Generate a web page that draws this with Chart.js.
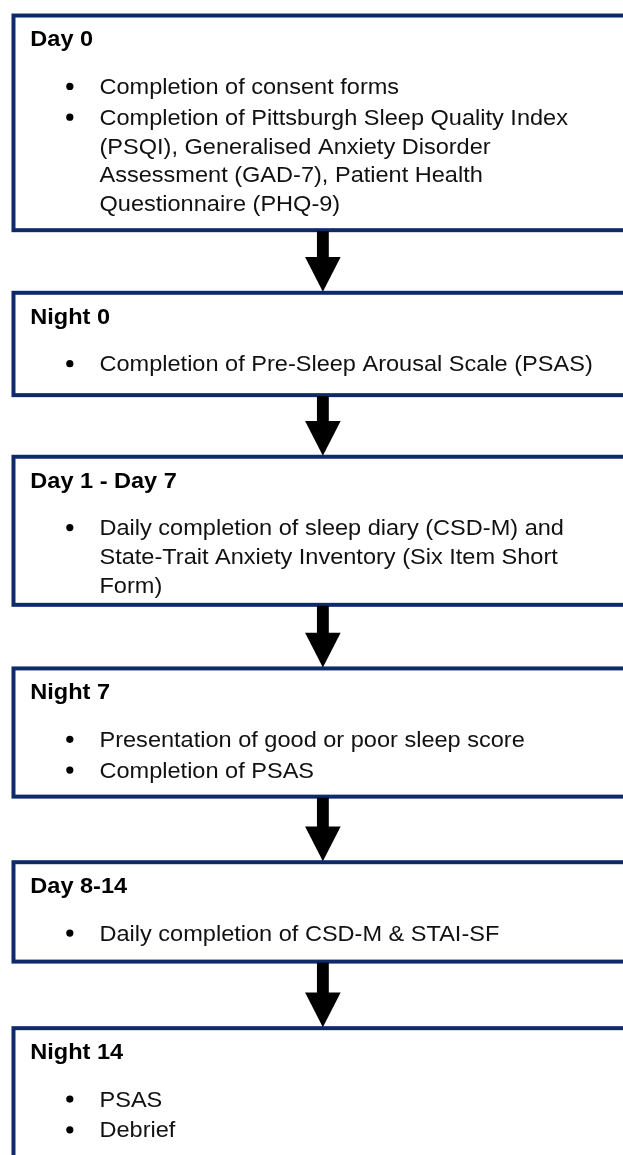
<!DOCTYPE html>
<html>
<head>
<meta charset="utf-8">
<script src="https://cdn.jsdelivr.net/npm/chart.js@4.4.0/dist/chart.umd.min.js"></script>
<style>
  html, body { margin: 0; padding: 0; background: #fff; }
  #wrap { width: 623px; height: 1155px; }
</style>
</head>
<body>
<div id="wrap"><canvas id="flow" width="623" height="1155"></canvas></div>
<script>
"use strict"

// stages, top to bottom
const stageTitles = ['Day 0', 'Night 0', 'Day 1 - Day 7', 'Night 7', 'Day 8-14', 'Night 14'];

// bullets per stage, each bullet split into the lines it is printed on
const stageItems = [
  [['Completion of consent forms'],
   ['Completion of Pittsburgh Sleep Quality Index',
    '(PSQI), Generalised Anxiety Disorder',
    'Assessment (GAD-7), Patient Health',
    'Questionnaire (PHQ-9)']],
  [['Completion of Pre-Sleep Arousal Scale (PSAS)']],
  [['Daily completion of sleep diary (CSD-M) and',
    'State-Trait Anxiety Inventory (Six Item Short',
    'Form)']],
  [['Presentation of good or poor sleep score'], ['Completion of PSAS']],
  [['Daily completion of CSD-M & STAI-SF']],
  [['PSAS'], ['Debrief']]
];

// layout (page units = px on the 623 x 1155 scales)
const boxTop = [10, 289, 454, 667, 862, 1029];
const boxBottom = [230, 396, 607, 800, 966, 1200];
const lay = {
  left: 10, right: 660, border: 4,
  titleX: 27, titleDy: 33, firstDy: 81, lineStep: 29, paraGap: 2,
  bulletX: 67, bulletLift: 7.7, textX: 97,
  arrowX: 323, shaftW: 12, headW: 36, headH: 34
};
const navy = '#0f2a6b';
const ink = '#111111';
const fontFam = '"Liberation Sans", Arial, sans-serif';
const stretch = 1.07;

// work out where every line and bullet goes
let textLines = [];
let bulletPts = [];
for (let s = 0; s < stageTitles.length; s++) {
  let y = boxTop[s] + lay.firstDy;
  stageItems[s].forEach((item, k) => {
    if (k > 0) y += lay.paraGap;
    bulletPts.push({ x: lay.bulletX, y: y - lay.bulletLift });
    item.forEach(line => {
      textLines.push({ text: line, y: y });
      y += lay.lineStep;
    });
  });
}

const flowPlugin = {
  id: 'flow',
  beforeDatasetsDraw(chart) {
    const ctx = chart.ctx;
    const xs = chart.scales.x, ys = chart.scales.y;
    const X = v => xs.getPixelForValue(v);
    const Y = v => ys.getPixelForValue(v);
    ctx.save();

    // boxes
    ctx.strokeStyle = navy;
    ctx.lineWidth = lay.border;
    for (let s = 0; s < stageTitles.length; s++) {
      const t = Y(boxTop[s] + lay.border / 2), b = Y(boxBottom[s] - lay.border / 2);
      ctx.strokeRect(X(lay.left), t, X(lay.right) - X(lay.left), b - t);
    }

    // arrows between boxes
    ctx.fillStyle = '#000';
    for (let s = 0; s < stageTitles.length - 1; s++) {
      const y0 = boxBottom[s], y1 = boxTop[s + 1];
      const hb = y1 - lay.headH;
      ctx.fillRect(X(lay.arrowX - lay.shaftW / 2), Y(y0 - 1), X(lay.shaftW) - X(0), Y(hb + 1) - Y(y0 - 1));
      ctx.beginPath();
      ctx.moveTo(X(lay.arrowX - lay.headW / 2), Y(hb));
      ctx.lineTo(X(lay.arrowX + lay.headW / 2), Y(hb));
      ctx.lineTo(X(lay.arrowX), Y(y1 + 1));
      ctx.closePath();
      ctx.fill();
    }

    // titles and bullet text
    ctx.textBaseline = 'alphabetic';
    ctx.textAlign = 'left';
    const put = (str, x, y) => {
      ctx.save();
      ctx.translate(X(x), Y(y));
      ctx.scale(stretch, 1);
      ctx.fillText(str, 0, 0);
      ctx.restore();
    };
    ctx.fillStyle = '#000';
    ctx.font = 'bold 22px ' + fontFam;
    stageTitles.forEach((t, s) => put(t, lay.titleX, boxTop[s] + lay.titleDy));
    ctx.fillStyle = ink;
    ctx.font = '22px ' + fontFam;
    textLines.forEach(l => put(l.text, lay.textX, l.y));
    ctx.restore();
  }
};

new Chart(document.getElementById('flow'), {
  type: 'scatter',
  data: {
    datasets: [{
      label: 'bullets',
      data: bulletPts,
      pointRadius: 3.6,
      pointHoverRadius: 3.6,
      pointBackgroundColor: '#000',
      pointBorderWidth: 0
    }]
  },
  options: {
    responsive: false,
    animation: false,
    layout: { padding: 0 },
    plugins: { legend: { display: false }, tooltip: { enabled: false } },
    events: [],
    scales: {
      x: { type: 'linear', min: 0, max: 623, display: false },
      y: { type: 'linear', min: 0, max: 1155, reverse: true, display: false }
    }
  },
  plugins: [flowPlugin]
});
</script>
</body>
</html>
